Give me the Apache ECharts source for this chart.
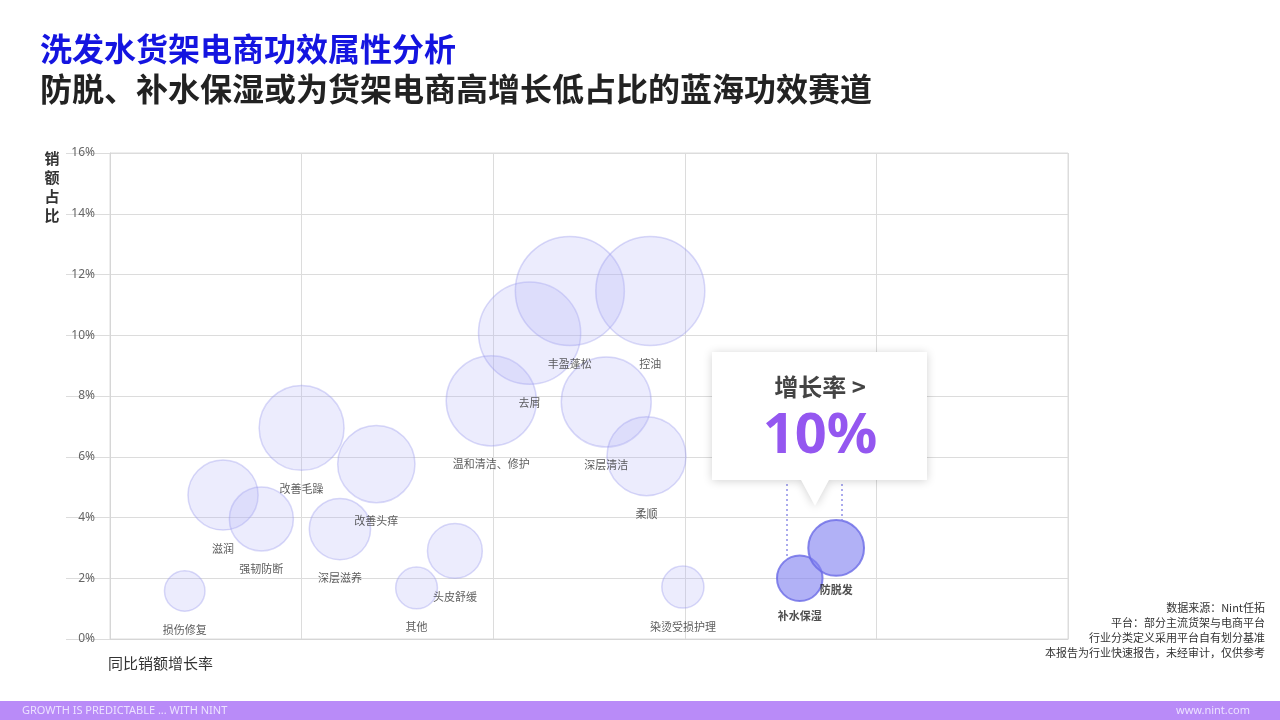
<!DOCTYPE html>
<html>
<head>
<meta charset="utf-8">
<script src="https://cdn.jsdelivr.net/npm/echarts@6/dist/echarts.min.js"></script>
<style>
html,body{margin:0;padding:0;background:#fff;}
#main{width:1280px;height:720px;}
</style>
</head>
<body>
<div id="main"></div>
<script>
// ---- data ----
const categories = ['损伤修复','滋润','强韧防断','改善毛躁','深层滋养','改善头痒','其他','头皮舒缓','温和清洁、修护','去屑','丰盈蓬松','深层清洁','柔顺','控油','染烫受损护理','补水保湿','防脱发'];
const growthPos = [0.39,0.59,0.79,1.00,1.20,1.39,1.60,1.80,1.99,2.19,2.40,2.59,2.80,2.82,2.99,3.60,3.79];
const salesShare = [1.58,4.74,3.95,6.95,3.62,5.76,1.68,2.90,7.84,10.07,11.46,7.80,6.02,11.46,1.71,2.00,3.00];
const highlighted = ['补水保湿','防脱发'];
const yTicks = [0,2,4,6,8,10,12,14,16];
const guideLines = [[3.53,5.1,2.68],[3.82,5.1,3.92]];
const sourceNotes = ['数据来源：Nint任拓','平台：部分主流货架与电商平台','行业分类定义采用平台自有划分基准','本报告为行业快速报告，未经审计，仅供参考'];

const FONT = '"Noto Sans CJK SC","Noto Sans",sans-serif';
const normalData = [], hiData = [];
categories.forEach((c,i)=>{
  const d = {name:c, value:[growthPos[i], salesShare[i]]};
  (highlighted.includes(c) ? hiData : normalData).push(d);
});
const sizeFn = v => 32.2*Math.sqrt(v[1]);

const notesGraphic = sourceNotes.map((t,i)=>({type:'text',x:1265,y:608+i*15,
  style:{text:t,fill:'#333',font:'11px '+FONT,align:'right',verticalAlign:'middle'}}));

const chart = echarts.init(document.getElementById('main'));
chart.setOption({
  backgroundColor:'#fff',
  animation:false,
  textStyle:{fontFamily:FONT},
  grid:{left:110,right:212,top:153,bottom:81,show:true,borderColor:'#dcdcdc',borderWidth:1},
  xAxis:{type:'value',min:0,max:5,interval:1,
    axisLabel:{show:false},axisTick:{show:false},
    axisLine:{show:true,lineStyle:{color:'#d6d6d6'}},
    splitLine:{show:true,lineStyle:{color:'#dcdcdc',width:1}}},
  yAxis:{type:'value',min:yTicks[0],max:yTicks[yTicks.length-1],interval:2,
    axisLabel:{formatter:'{value}%',color:'#666',fontSize:12,margin:15,fontFamily:'"Noto Sans",sans-serif'},
    axisTick:{show:true,length:44,lineStyle:{color:'#dcdcdc'}},
    axisLine:{show:true,lineStyle:{color:'#d6d6d6'}},
    splitLine:{show:true,lineStyle:{color:'#dcdcdc',width:1}}},
  series:[
    {type:'scatter',data:normalData,symbolSize:sizeFn,
     itemStyle:{color:'rgba(175,175,245,0.30)',borderColor:'rgba(150,150,235,0.45)',borderWidth:1.5},
     label:{show:true,position:'bottom',distance:12,formatter:'{b}',color:'#333',fontSize:11,fontFamily:FONT},
     emphasis:{disabled:true},z:2},
    {type:'scatter',data:hiData,symbolSize:sizeFn,
     itemStyle:{color:'rgba(130,130,240,0.78)',borderColor:'#6a6ae6',borderWidth:2},
     label:{show:true,position:'bottom',distance:8,formatter:'{b}',color:'#222',fontSize:11,fontWeight:'bold',fontFamily:FONT},
     emphasis:{disabled:true},z:3,
     markLine:{silent:true,symbol:'none',label:{show:false},
       lineStyle:{type:[2,3],color:'#8f8fe8',width:1.5},
       data:guideLines.map(g=>[{coord:[g[0],g[1]]},{coord:[g[0],g[2]]}])}}
  ],
  graphic:[
    {type:'text',left:40,top:33,style:{text:'洗发水货架电商功效属性分析',fill:'#1414e0',font:'bold 32px '+FONT}},
    {type:'text',left:40,top:73,style:{text:'防脱、补水保湿或为货架电商高增长低占比的蓝海功效赛道',fill:'#222',font:'bold 32px '+FONT}},
    {type:'text',x:52,y:149,style:{text:'销\n额\n占\n比',fill:'#333',font:'bold 15px '+FONT,lineHeight:19,align:'center'}},
    {type:'text',x:108,y:656,style:{text:'同比销额增长率',fill:'#333',font:'15px '+FONT}},
    {type:'polygon',z:10,shape:{points:[[712,352],[927,352],[927,480],[829,480],[815,506],[801,480],[712,480]]},
     style:{fill:'#fff',shadowBlur:10,shadowColor:'rgba(0,0,0,0.18)',shadowOffsetY:1}},
    {type:'text',z:11,x:820,y:387,style:{text:'增长率 >',fill:'#444',font:'bold 24px '+FONT,align:'center',verticalAlign:'middle'}},
    {type:'text',z:11,x:820,y:437,style:{text:'10%',fill:'#9457f0',font:'bold 56px "Noto Sans",sans-serif',align:'center',verticalAlign:'middle'}},
    ...notesGraphic,
    {type:'rect',z:5,shape:{x:0,y:701,width:1280,height:19},style:{fill:'#b98bf8'}},
    {type:'text',z:6,x:22,y:711,style:{text:'GROWTH IS PREDICTABLE ... WITH NINT',fill:'#ece2ff',font:'11px "Noto Sans",sans-serif',verticalAlign:'middle'}},
    {type:'text',z:6,x:1250,y:711,style:{text:'www.nint.com',fill:'#ece2ff',font:'11px "Noto Sans",sans-serif',align:'right',verticalAlign:'middle'}}
  ]
});
</script>
</body>
</html>
